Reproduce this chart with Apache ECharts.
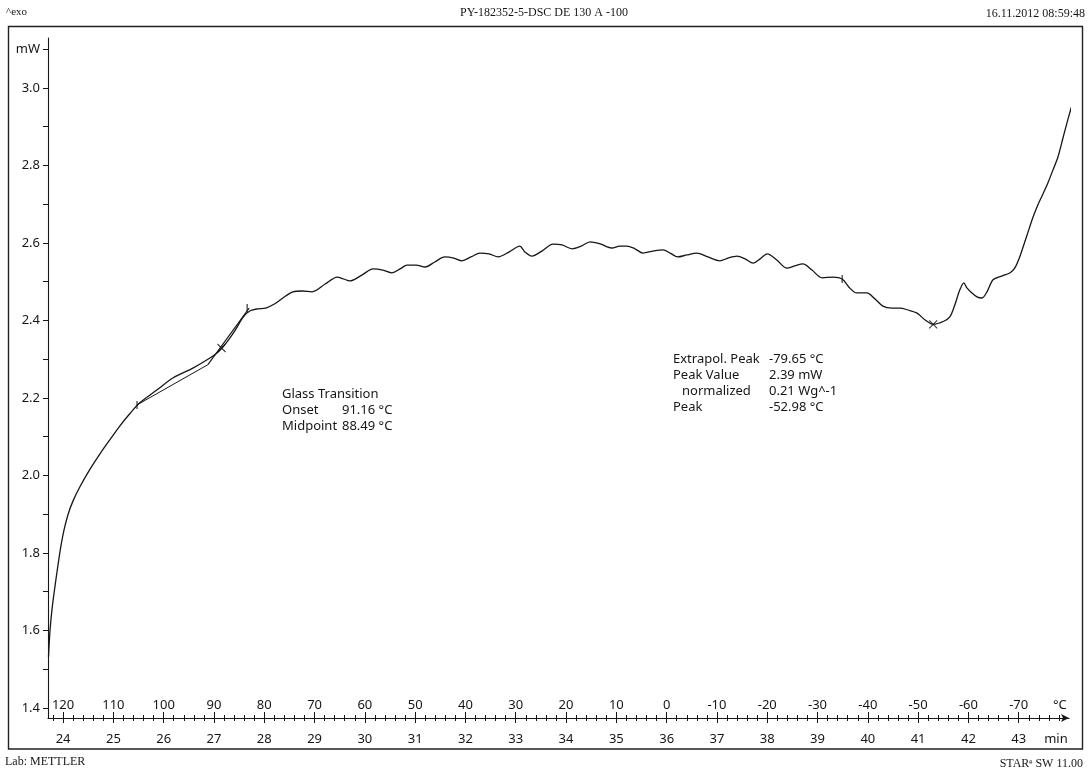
<!DOCTYPE html>
<html>
<head>
<meta charset="utf-8">
<title>PY-182352-5-DSC DE 130 A -100</title>
<script src="https://cdn.jsdelivr.net/npm/echarts@6/dist/echarts.min.js"></script>
<style>
  html, body { margin: 0; padding: 0; background: #ffffff; }
  #chart { width: 1089px; height: 772px; }
</style>
</head>
<body>
<div id="chart"></div>
<script>
// DSC cooling run: heat flow (mW) against time (min); temperature scale runs 120 °C → -70 °C.
const timeMin = [
  23.71, 23.74, 23.78, 23.84, 23.90, 23.96, 24.02, 24.10, 24.20, 24.34,
  24.53, 24.73, 24.93, 25.13, 25.33, 25.53, 25.87, 26.19, 26.58, 26.92,
  27.06, 27.16, 27.26, 27.36, 27.46, 27.58, 27.72, 27.87, 28.03, 28.21,
  28.37, 28.57, 28.75, 28.95, 29.21, 29.45, 29.58, 29.70, 29.94, 30.16,
  30.36, 30.54, 30.70, 30.84, 31.02, 31.20, 31.39, 31.59, 31.77, 31.93,
  32.11, 32.29, 32.47, 32.65, 32.87, 33.08, 33.18, 33.32, 33.52, 33.74,
  33.92, 34.12, 34.30, 34.48, 34.69, 34.91, 35.07, 35.21, 35.37, 35.53,
  35.73, 35.93, 36.07, 36.22, 36.40, 36.60, 36.82, 37.06, 37.22, 37.40,
  37.56, 37.72, 37.86, 38.00, 38.19, 38.39, 38.55, 38.71, 38.89, 39.09,
  39.31, 39.49, 39.64, 39.78, 39.98, 40.14, 40.30, 40.48, 40.64, 40.80,
  40.98, 41.14, 41.30, 41.51, 41.63, 41.73, 41.83, 41.91, 41.97, 42.07,
  42.17, 42.27, 42.37, 42.49, 42.67, 42.83, 42.92, 43.02, 43.16, 43.28,
  43.38, 43.48, 43.58, 43.68, 43.78, 43.88, 43.96, 44.02, 44.08
];
const heatFlowMw = [
  1.532, 1.600, 1.655, 1.715, 1.770, 1.820, 1.860, 1.900, 1.935, 1.972,
  2.015, 2.055, 2.092, 2.128, 2.160, 2.188, 2.221, 2.252, 2.277, 2.303,
  2.316, 2.329, 2.345, 2.363, 2.383, 2.409, 2.425, 2.430, 2.432, 2.443,
  2.458, 2.474, 2.476, 2.474, 2.494, 2.512, 2.507, 2.502, 2.517, 2.533,
  2.530, 2.523, 2.533, 2.543, 2.543, 2.538, 2.551, 2.564, 2.561, 2.554,
  2.564, 2.574, 2.572, 2.564, 2.577, 2.592, 2.577, 2.566, 2.579, 2.597,
  2.595, 2.585, 2.592, 2.603, 2.597, 2.587, 2.592, 2.592, 2.585, 2.574,
  2.579, 2.582, 2.574, 2.564, 2.569, 2.574, 2.564, 2.554, 2.561, 2.566,
  2.559, 2.548, 2.559, 2.572, 2.556, 2.535, 2.541, 2.546, 2.530, 2.510,
  2.512, 2.507, 2.484, 2.471, 2.471, 2.456, 2.437, 2.432, 2.432, 2.427,
  2.419, 2.401, 2.390, 2.398, 2.409, 2.440, 2.479, 2.497, 2.484, 2.471,
  2.461, 2.458, 2.474, 2.505, 2.515, 2.523, 2.535, 2.564, 2.618, 2.665,
  2.698, 2.726, 2.755, 2.788, 2.822, 2.871, 2.910, 2.938, 2.964
];

// Axis ticks and labels
const timeTicks = [24, 25, 26, 27, 28, 29, 30, 31, 32, 33, 34, 35, 36, 37, 38, 39, 40, 41, 42, 43];
const tempTicks = [120, 110, 100, 90, 80, 70, 60, 50, 40, 30, 20, 10, 0, -10, -20, -30, -40, -50, -60, -70];
const mwLabels = [1.4, 1.6, 1.8, 2.0, 2.2, 2.4, 2.6, 2.8, 3.0];
const mwTicks = [1.4, 1.5, 1.6, 1.7, 1.8, 1.9, 2.0, 2.1, 2.2, 2.3, 2.4, 2.5, 2.6, 2.7, 2.8, 2.9, 3.0, 3.1];
const mwUnitAt = 3.1;

// Evaluation constructions: glass transition tangents and the exothermic peak
const baselineTangent = [[25.47, 2.182], [26.88, 2.286]];
const stepTangent = [[26.88, 2.286], [27.70, 2.432]];
const limitMarks = [[25.47, 2.182], [27.66, 2.432], [39.49, 2.507]];
const crossMarks = [[27.15, 2.329], [41.30, 2.390]];

// Minor ticks every 0.2 min along the time scale
const minorTimeTicks = [];
for (let i = 119; i <= 219; i++) {
  if (i % 5 !== 0) minorTimeTicks.push(+(i * 0.2).toFixed(1));
}

const curve = timeMin.map((t, i) => [t, heatFlowMw[i]]);

const INK = '#161616';
const SANS = '"Noto Sans", "DejaVu Sans", sans-serif';
const SERIF = '"Liberation Serif", "DejaVu Serif", serif';

function txt(text, x, y, opts) {
  return {
    type: 'text',
    silent: true,
    style: Object.assign({
      text: text, x: x, y: y,
      font: '13px ' + SANS,
      fill: INK,
      align: 'left',
      verticalAlign: 'middle'
    }, opts || {})
  };
}

const chart = echarts.init(document.getElementById('chart'), null, { renderer: 'canvas' });

chart.setOption({
  animation: false,
  backgroundColor: '#ffffff',
  grid: { left: 48, right: 20, top: 38, bottom: 54, containLabel: false },
  xAxis: [
    {
      type: 'value', position: 'bottom', offset: 0,
      min: 23.7, max: 44.0,
      axisLine: { show: true, onZero: false, symbol: ['none', 'arrow'], symbolSize: [6, 8],
                  lineStyle: { color: INK, width: 1.1 } },
      axisTick: { show: true, inside: false, length: 5, customValues: timeTicks,
                  lineStyle: { color: INK, width: 1 } },
      axisLabel: { show: true, margin: 15, fontSize: 13, color: INK, fontFamily: SANS,
                   customValues: timeTicks.concat([43.74]),
                   formatter: v => (v > 43.5 ? 'min' : String(v)) },
      splitLine: { show: false }
    },
    {
      type: 'value', position: 'bottom', offset: 0,
      inverse: true, min: -80, max: 123,
      axisLine: { show: false, onZero: false },
      axisTick: { show: true, inside: true, length: 6, customValues: tempTicks,
                  lineStyle: { color: INK, width: 1 } },
      axisLabel: { show: true, inside: true, margin: 6, fontSize: 13, color: INK, fontFamily: SANS,
                   customValues: tempTicks.concat([-78.2]),
                   formatter: v => (v < -75 ? '°C' : String(v)) },
      splitLine: { show: false }
    },
    {
      type: 'value', position: 'bottom', offset: 0,
      min: 23.7, max: 44.0,
      axisLine: { show: false, onZero: false },
      axisTick: { show: true, inside: false, length: 3, customValues: minorTimeTicks,
                  lineStyle: { color: INK, width: 1 } },
      axisLabel: { show: false },
      splitLine: { show: false }
    },
    {
      type: 'value', position: 'bottom', offset: 0,
      min: 23.7, max: 44.0,
      axisLine: { show: false, onZero: false },
      axisTick: { show: true, inside: true, length: 3, customValues: minorTimeTicks,
                  lineStyle: { color: INK, width: 1 } },
      axisLabel: { show: false },
      splitLine: { show: false }
    }
  ],
  yAxis: {
    type: 'value',
    min: 1.374, max: 3.129,
    axisLine: { show: true, onZero: false, lineStyle: { color: INK, width: 1.1 } },
    axisTick: { show: true, length: 5, customValues: mwTicks, lineStyle: { color: INK, width: 1 } },
    axisLabel: { show: true, margin: 8, fontSize: 13, color: INK, fontFamily: SANS,
                 customValues: mwLabels.concat([mwUnitAt]),
                 formatter: v => (v > 3.05 ? 'mW' : v.toFixed(1)) },
    splitLine: { show: false }
  },
  series: [
    {
      name: 'Heat flow', type: 'line', data: curve,
      smooth: 0.3, showSymbol: false, clip: false,
      lineStyle: { color: INK, width: 1.3 }, z: 3
    },
    {
      name: 'Baseline tangent', type: 'line', data: baselineTangent,
      showSymbol: false, lineStyle: { color: INK, width: 1 }, z: 2
    },
    {
      name: 'Step tangent', type: 'line', data: stepTangent,
      showSymbol: false, lineStyle: { color: INK, width: 1.1 }, z: 2
    },
    {
      name: 'Limits', type: 'scatter', data: limitMarks,
      symbol: 'rect', symbolSize: [1.3, 8],
      itemStyle: { color: INK }, z: 4
    },
    {
      name: 'Crosses', type: 'scatter', data: crossMarks,
      symbol: 'path://M0 0L10 10M10 0L0 10', symbolSize: 8,
      itemStyle: { color: 'none', borderColor: INK, borderWidth: 1.2 }, z: 4
    }
  ],
  graphic: [
    { type: 'rect', silent: true, z: -1,
      shape: { x: 8.5, y: 26.5, width: 1074, height: 722.5 },
      style: { fill: 'none', stroke: '#222', lineWidth: 1.4 } },

    txt('^exo', 6, 12, { font: '11px ' + SERIF }),
    txt('PY-182352-5-DSC DE 130 A -100', 544, 13, { font: '12px ' + SERIF, align: 'center' }),
    txt('16.11.2012 08:59:48', 1085, 14, { font: '12px ' + SERIF, align: 'right' }),
    txt('Lab: METTLER', 5, 762, { font: '12px ' + SERIF }),
    txt('STARᵉ SW 11.00', 1083, 764, { font: '12px ' + SERIF, align: 'right' }),

    txt('Glass Transition', 282, 394),
    txt('Onset', 282, 410),
    txt('91.16 °C', 342, 410),
    txt('Midpoint', 282, 426),
    txt('88.49 °C', 342, 426),

    txt('Extrapol. Peak', 673, 359),
    txt('-79.65 °C', 769, 359),
    txt('Peak Value', 673, 375),
    txt('2.39 mW', 769, 375),
    txt('normalized', 682, 391),
    txt('0.21 Wg^-1', 769, 391),
    txt('Peak', 673, 407),
    txt('-52.98 °C', 769, 407)
  ]
});
</script>
</body>
</html>
